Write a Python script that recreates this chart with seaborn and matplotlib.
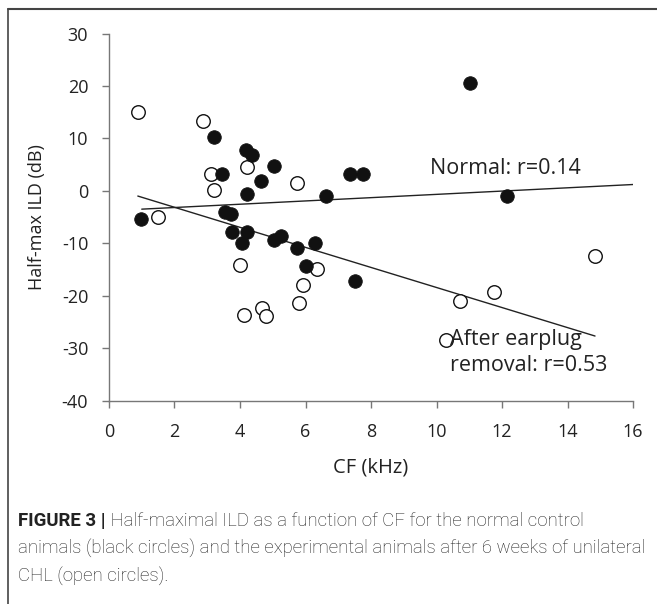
import numpy as np
import pandas as pd
import matplotlib
matplotlib.use("Agg")
import matplotlib.pyplot as plt
from matplotlib.lines import Line2D
import seaborn as sns

# normal control animals (black circles)
normal_cf = [0.98, 3.2, 3.46, 4.17, 4.36, 5.05, 4.64, 4.2, 6.62, 7.35, 7.76, 11.02, 12.14,
             3.54, 3.72, 3.77, 4.21, 4.05, 5.05, 5.26, 5.75, 6.3, 6.02, 7.52]
normal_ild = [-5.3, 10.3, 3.2, 7.8, 6.8, 4.7, 1.85, -0.7, -0.95, 3.3, 3.3, 20.5, -1.0,
              -4.1, -4.5, -7.9, -7.9, -9.9, -9.4, -8.6, -10.9, -9.9, -14.4, -17.2]

# after earplug removal (open circles)
plug_cf = [0.88, 2.86, 3.1, 3.2, 4.2, 5.73, 1.49, 4.01, 6.34, 5.91, 5.8, 4.11, 4.67, 4.8,
           14.84, 11.77, 10.73, 10.28]
plug_ild = [15.0, 13.4, 3.2, 0.1, 4.5, 1.4, -5.0, -14.2, -15.0, -17.9, -21.4, -23.7, -22.4, -23.9,
            -12.4, -19.3, -21.0, -28.4]

# regression lines (end points)
normal_fit_x = [1.0, 16.0]
normal_fit_y = [-3.5, 1.2]
plug_fit_x = [0.88, 14.84]
plug_fit_y = [-1.0, -27.7]

x_ticks = [0, 2, 4, 6, 8, 10, 12, 14, 16]
y_ticks = [-40, -30, -20, -10, 0, 10, 20, 30]

df_normal = pd.DataFrame({'CF': normal_cf, 'ILD': normal_ild})
df_plug = pd.DataFrame({'CF': plug_cf, 'ILD': plug_ild})

sns.set_theme(style="ticks")
plt.rcParams['font.family'] = ['Open Sans', 'DejaVu Sans']

fig = plt.figure(figsize=(6.57, 6.04), dpi=100)
ax = fig.add_axes([0.1659, 0.3369, 0.7976, 0.6076])

sns.lineplot(x=normal_fit_x, y=normal_fit_y, ax=ax, color='#222222', linewidth=1.0)
sns.lineplot(x=plug_fit_x, y=plug_fit_y, ax=ax, color='#222222', linewidth=1.0)

sns.scatterplot(data=df_plug, x='CF', y='ILD', ax=ax, s=95, facecolor='white',
                edgecolor='#111111', linewidth=1.0, zorder=3)
sns.scatterplot(data=df_normal, x='CF', y='ILD', ax=ax, s=95, color='#111111',
                edgecolor='#111111', linewidth=0.6, zorder=4)

ax.set_xlim(0, 16)
ax.set_ylim(-40, 30)
ax.set_xticks(x_ticks)
ax.set_yticks(y_ticks)
ax.set_xticklabels([str(v) for v in x_ticks])
ax.set_yticklabels([str(v) for v in y_ticks])
ax.tick_params(axis='both', labelsize=13, colors='#777777', labelcolor='#222222',
               length=5, width=1.0, direction='out')
ax.tick_params(axis='x', pad=11)
ax.tick_params(axis='y', pad=10)
for side in ['top', 'right']:
    ax.spines[side].set_visible(False)
for side in ['left', 'bottom']:
    ax.spines[side].set_color('#777777')
    ax.spines[side].set_linewidth(1.0)

ax.set_xlabel('CF (kHz)', fontsize=14.5, color='#222222', labelpad=12)
ax.set_ylabel('Half-max ILD (dB)', fontsize=13, color='#222222', labelpad=11)

ax.text(9.8, 4.3, 'Normal: r=0.14', fontsize=15.5, color='#222222', va='center', ha='left')
ax.text(10.4, -30.9, 'After earplug\nremoval: r=0.53', fontsize=15.5, color='#222222',
        va='center', ha='left', linespacing=1.3)

# frame of the figure panel
fig.add_artist(Line2D([8 / 657, 1.0], [1 - 9 / 604, 1 - 9 / 604], transform=fig.transFigure,
                      color='#444444', linewidth=1.5))
fig.add_artist(Line2D([8 / 657, 8 / 657], [0.0, 1 - 9 / 604], transform=fig.transFigure,
                      color='#444444', linewidth=1.2))

# caption
cap_font = ['Roboto', 'DejaVu Sans']
cap_size = 13.4
bold = fig.text(18 / 657, 1 - 521 / 604, 'FIGURE 3 |', fontsize=cap_size, fontweight='bold',
                family=cap_font, color='#222222', va='center')
ax.annotate(' Half-maximal ILD as a function of CF for the normal control', xy=(1, 0),
            xycoords=bold, va='bottom', ha='left', fontsize=cap_size, family=cap_font,
            color='#222222', fontweight='light')
fig.text(18 / 657, 1 - 549 / 604,
         'animals (black circles) and the experimental animals after 6 weeks of unilateral',
         fontsize=cap_size, family=cap_font, color='#222222', va='center', fontweight='light')
fig.text(18 / 657, 1 - 577 / 604, 'CHL (open circles).', fontsize=cap_size, family=cap_font,
         color='#222222', va='center', fontweight='light')

plt.savefig('out.png', dpi=100)
plt.close()
